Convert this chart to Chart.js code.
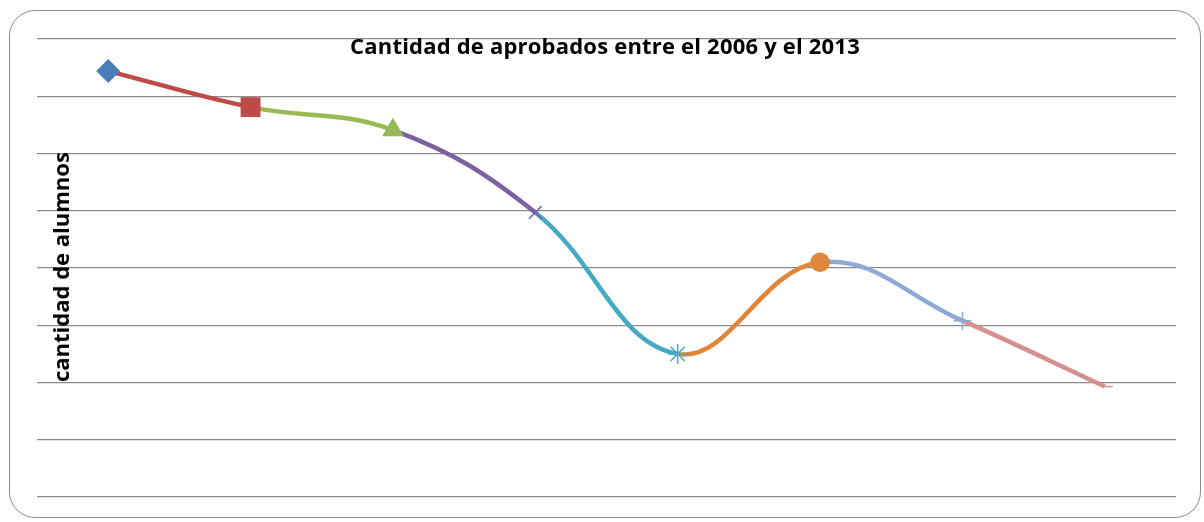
<!DOCTYPE html>
<html>
<head>
<meta charset="utf-8">
<script src="https://cdn.jsdelivr.net/npm/chart.js@4"></script>
<style>
  html, body { margin: 0; padding: 0; background: #fff; }
  #wrap { position: relative; width: 1204px; height: 522px; }
  #frame { position: absolute; left: 9px; top: 10px; width: 1192px; height: 508px;
           border: 1.5px solid #8c8c8c; border-radius: 26px; box-sizing: border-box; }
  canvas { position: absolute; left: 0; top: 0; }
  .chartTitle { position: absolute; left: 0; width: 1210px; top: 30px; text-align: center;
                font: bold 22px "Open Sans", sans-serif; letter-spacing: 0.2px; color: #000; }
  .axisTitle { position: absolute; left: 60px; top: 267px; transform: translate(-50%, -50%) rotate(-90deg);
               font: bold 22px "Open Sans", sans-serif; color: #000; white-space: nowrap; }
</style>
</head>
<body>
<div id="wrap">
  <div id="frame"></div>
  <canvas id="chart" width="1204" height="522"></canvas>
  <div class="chartTitle">Cantidad de aprobados entre el 2006 y el 2013</div>
  <div class="axisTitle">cantidad de alumnos</div>
</div>
<script>
// years and approved students (no axis labels in the original, values in grid units)
const years = ['2006', '2007', '2008', '2009', '2010', '2011', '2012', '2013'];
const aprobados = [7.44, 6.81, 6.41, 4.97, 2.50, 4.10, 3.08, 1.93];
const pointColors = ['#4a7ebb', '#be4b48', '#98b954', '#7d60a0', '#46aac5', '#e0863a', '#8fa9d6', '#d68f8f'];
const pointStyles = ['rectRot', 'rect', 'triangle', 'crossRot', 'star', 'circle', 'cross', 'dash'];
const pointSizes = [11, 13, 11, 9, 10, 9, 9, 8];

new Chart(document.getElementById('chart'), {
    type: 'line',
    data: {
        labels: years,
        datasets: [{
            data: aprobados,
            borderWidth: 4.5,
            tension: 0.4,
            pointStyle: pointStyles,
            pointRadius: pointSizes,
            pointBackgroundColor: pointColors,
            pointBorderColor: pointColors,
            pointBorderWidth: 1.5,
            segment: {
                borderColor: ctx => pointColors[ctx.p1DataIndex]
            }
        }]
    },
    options: {
        responsive: false,
        animation: false,
        layout: { padding: { left: 37, right: 28, top: 39, bottom: 17 } },
        plugins: { legend: { display: false }, tooltip: { enabled: false } },
        scales: {
            x: {
                offset: true,
                ticks: { display: false },
                grid: { display: false },
                border: { display: false }
            },
            y: {
                min: 0, max: 8,
                ticks: { display: false, stepSize: 1 },
                grid: { color: '#8a8a8a', lineWidth: 1.3, drawTicks: false },
                border: { display: false }
            }
        }
    }
});
</script>
</body>
</html>
